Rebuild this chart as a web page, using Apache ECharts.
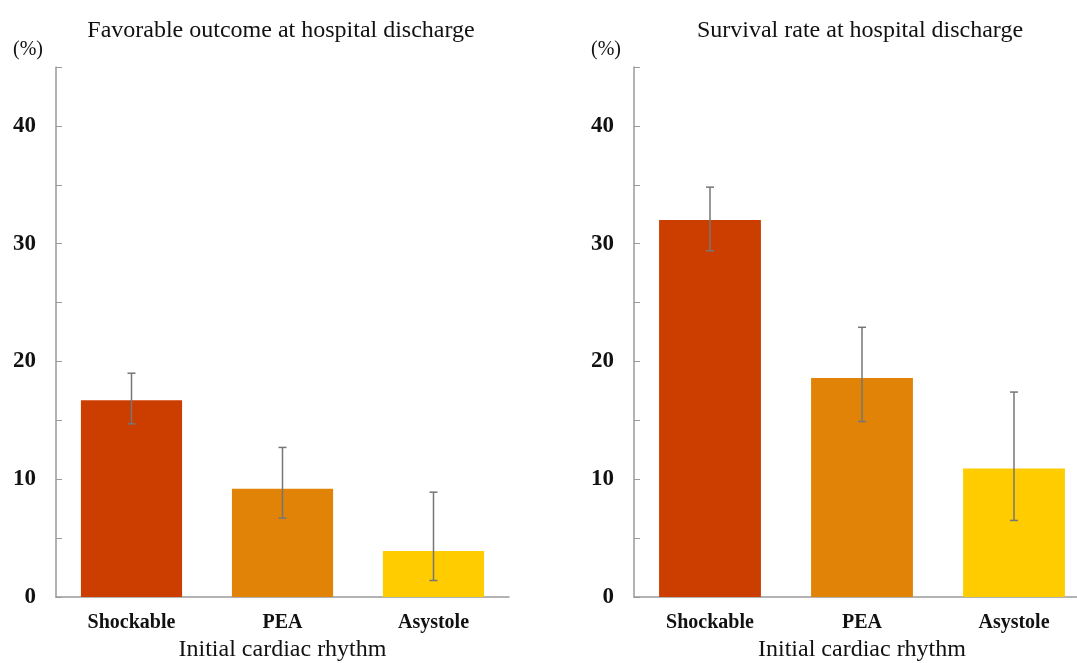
<!DOCTYPE html>
<html><head><meta charset="utf-8">
<script src="https://cdn.jsdelivr.net/npm/echarts@6/dist/echarts.min.js"></script>
<style>html,body{margin:0;padding:0;background:#fff}#c{width:1077px;height:663px}</style>
</head><body><div id="c"></div>
<script>
const categories = ['Shockable', 'PEA', 'Asystole'];
const colors = ['#CC3D00', '#E08306', '#FFCC00'];
const titles = ['Favorable outcome at hospital discharge', 'Survival rate at hospital discharge'];
const favorableValues = [16.7, 9.2, 3.9];
const favorableLow = [14.7, 6.7, 1.4];
const favorableHigh = [19.0, 12.7, 8.9];
const survivalValues = [32.0, 18.6, 10.9];
const survivalLow = [29.4, 14.9, 6.5];
const survivalHigh = [34.8, 22.9, 17.4];
const yTickLabels = ['0', '10', '20', '30', '40'];

const serif = '"Liberation Serif", "DejaVu Serif", serif';
const axisGrey = '#9a9a9a';

const grids = [
  {left: 56, width: 453, top: 67, bottom: 66, containLabel: false, outerBoundsMode: 'none'},
  {left: 634, width: 456, top: 67, bottom: 66, containLabel: false, outerBoundsMode: 'none'}
];

function xAxis(i) {
  return {
    type: 'category', gridIndex: i, data: categories,
    axisLine: {lineStyle: {color: axisGrey, width: 1.5}},
    axisTick: {show: false},
    axisLabel: {color: '#111', fontFamily: serif, fontWeight: 'bold', fontSize: 20, margin: 16},
    name: 'Initial cardiac rhythm', nameLocation: 'middle', nameGap: 51,
    nameTextStyle: {color: '#111', fontFamily: serif, fontSize: 24, verticalAlign: 'middle'}
  };
}
function yAxis(i) {
  return {
    type: 'value', gridIndex: i, min: 0, max: 45, interval: 5,
    axisLine: {show: true, lineStyle: {color: axisGrey, width: 1.5}},
    axisTick: {show: true, inside: true, length: 6, lineStyle: {color: axisGrey, width: 1}},
    splitLine: {show: false},
    axisLabel: {
      color: '#111', fontFamily: serif, fontWeight: 'bold', fontSize: 23, margin: 20,
      formatter: v => yTickLabels.indexOf(String(v)) >= 0 ? String(v) : ''
    },
    name: '(%)', nameLocation: 'end', nameGap: 17,
    nameTextStyle: {color: '#111', fontFamily: serif, fontSize: 20, align: 'right', verticalAlign: 'middle', padding: [0, 13, 0, 0]}
  };
}
function barSeries(i, vals) {
  return {
    type: 'bar', xAxisIndex: i, yAxisIndex: i, barWidth: '67%',
    data: vals.map((v, k) => ({value: v, itemStyle: {color: colors[k]}})),
    z: 2
  };
}
function errSeries(i, low, high) {
  return {
    type: 'custom', xAxisIndex: i, yAxisIndex: i, z: 5,
    data: low.map((l, k) => [k, l, high[k]]),
    renderItem: function (params, api) {
      const lo = api.coord([api.value(0), api.value(1)]);
      const hi = api.coord([api.value(0), api.value(2)]);
      const hw = 4;
      const style = {stroke: '#767676', lineWidth: 1.5};
      return {type: 'group', children: [
        {type: 'line', shape: {x1: lo[0], y1: lo[1], x2: hi[0], y2: hi[1]}, style: style},
        {type: 'line', shape: {x1: lo[0] - hw, y1: lo[1], x2: lo[0] + hw, y2: lo[1]}, style: style},
        {type: 'line', shape: {x1: hi[0] - hw, y1: hi[1], x2: hi[0] + hw, y2: hi[1]}, style: style}
      ]};
    }
  };
}

const chart = echarts.init(document.getElementById('c'));
chart.setOption({
  animation: false,
  title: [
    {text: titles[0], left: 276, top: 14, textAlign: 'center', textStyle: {fontFamily: serif, fontSize: 24, fontWeight: 'normal', color: '#111'}},
    {text: titles[1], left: 855, top: 14, textAlign: 'center', textStyle: {fontFamily: serif, fontSize: 24, fontWeight: 'normal', color: '#111'}}
  ],
  grid: grids,
  xAxis: [xAxis(0), xAxis(1)],
  yAxis: [yAxis(0), yAxis(1)],
  series: [
    barSeries(0, favorableValues), errSeries(0, favorableLow, favorableHigh),
    barSeries(1, survivalValues), errSeries(1, survivalLow, survivalHigh)
  ]
});
</script></body></html>
